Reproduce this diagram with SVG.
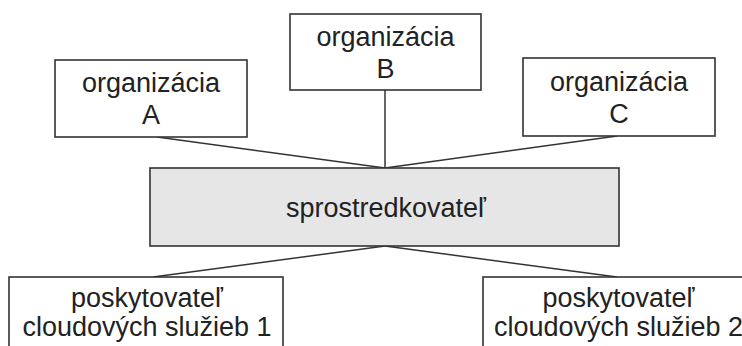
<svg xmlns="http://www.w3.org/2000/svg" width="742" height="346" viewBox="0 0 742 346">
  <style>
    .box { fill: #ffffff; stroke: #333333; stroke-width: 1.6; }
    .hub { fill: #e6e6e7; stroke: #333333; stroke-width: 1.6; }
    .link { stroke: #333333; stroke-width: 1.5; fill: none; }
    .label { font-family: "Liberation Sans", Arial, sans-serif; font-size: 27px; fill: #222222; text-anchor: middle; }
  </style>
  <rect width="742" height="346" fill="#ffffff"/>

  <g id="connectors">
    <line class="link" x1="157" y1="137" x2="385" y2="168"/>
    <line class="link" x1="385" y1="90" x2="385" y2="168"/>
    <line class="link" x1="617" y1="136" x2="385" y2="168"/>
    <line class="link" x1="385" y1="246" x2="153" y2="277"/>
    <line class="link" x1="385" y1="246" x2="617" y2="277"/>
  </g>

  <g id="org-a">
    <rect class="box" x="55" y="60" width="192" height="77"/>
    <text class="label" x="151" y="92">organizácia</text>
    <text class="label" x="151" y="124">A</text>
  </g>

  <g id="org-b">
    <rect class="box" x="290" y="14" width="191" height="76"/>
    <text class="label" x="385.5" y="46">organizácia</text>
    <text class="label" x="385.5" y="78">B</text>
  </g>

  <g id="org-c">
    <rect class="box" x="523" y="58" width="192" height="78"/>
    <text class="label" x="619" y="91">organizácia</text>
    <text class="label" x="619" y="123">C</text>
  </g>

  <g id="broker">
    <rect class="hub" x="150" y="168" width="469" height="78"/>
    <text class="label" x="386" y="217">sprostredkovateľ</text>
  </g>

  <g id="provider-1">
    <rect class="box" x="9" y="277" width="274" height="90"/>
    <text class="label" x="147" y="307">poskytovateľ</text>
    <text class="label" x="147" y="336">cloudových služieb 1</text>
  </g>

  <g id="provider-2">
    <rect class="box" x="483" y="277" width="272" height="90"/>
    <text class="label" x="618.5" y="307">poskytovateľ</text>
    <text class="label" x="618.5" y="336">cloudových služieb 2</text>
  </g>
</svg>
